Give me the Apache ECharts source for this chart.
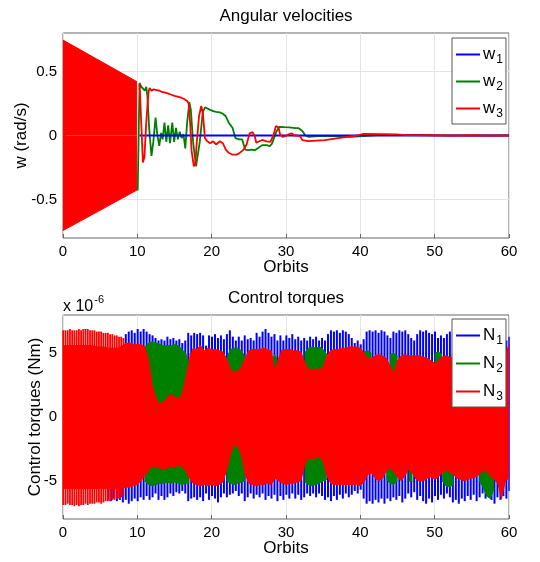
<!DOCTYPE html>
<html>
<head>
<meta charset="utf-8">
<title>Angular velocities / Control torques</title>
<script src="https://cdn.jsdelivr.net/npm/echarts@6/dist/echarts.min.js"></script>
<style>
  html, body { margin: 0; padding: 0; background: #fff; }
  #chart { width: 540px; height: 562px; }
</style>
</head>
<body>
<div id="chart"></div>
<script>
// ---- angular velocities (rad/s) vs orbits ----
var w1 = [[10.3, 0], [60, 0]];
var w2 = [[10.05, -0.43], [10.3, 0.41], [10.55, 0.38], [10.8, 0.39], [11.0, 0.35], [11.2, 0.38], [11.35, 0.31],
  [11.6, 0.05], [11.9, -0.16], [12.15, -0.05], [12.45, 0.14], [12.7, 0.0], [12.95, -0.08], [13.2, 0.02],
  [13.4, -0.03], [13.65, 0.1], [13.9, -0.05], [14.15, 0.08], [14.4, -0.06], [14.7, 0.1], [14.95, -0.05],
  [15.2, 0.06], [15.45, -0.03], [15.7, 0.03], [15.95, -0.02], [16.2, 0.01], [16.45, -0.1], [16.7, 0.1],
  [17.0, 0.26], [17.2, 0.2], [17.5, -0.05], [17.9, -0.24], [18.1, -0.23], [18.4, -0.05], [18.8, 0.18],
  [19.1, 0.22], [19.3, 0.21], [19.8, 0.2], [20.2, 0.19], [20.6, 0.185], [21.1, 0.18], [21.5, 0.17],
  [21.9, 0.15], [22.3, 0.1], [22.8, 0.06], [23.2, -0.02], [23.7, -0.03], [24.1, -0.03], [24.5, -0.11],
  [24.9, -0.115], [25.4, -0.11], [25.8, -0.115], [26.2, -0.1], [26.8, -0.075], [27.4, -0.075], [27.8, -0.083],
  [28.1, -0.065], [28.3, -0.05], [28.7, 0.03], [29.1, 0.068], [29.8, 0.065], [30.4, 0.063], [31.3, 0.058],
  [31.7, 0.057], [32.2, 0.035], [32.6, 0.0], [33.0, -0.01], [34.3, -0.005], [36.5, -0.005], [38.7, -0.01],
  [40.4, -0.005], [42.2, 0.003], [43.9, 0.003], [46, 0.005], [48, 0.004], [50, 0.002], [55, 0], [60, 0]];
var w3 = [[10.3, 0.4], [10.45, 0.2], [10.75, -0.21], [10.95, -0.17], [11.2, 0.1], [11.5, 0.34], [11.65, 0.37],
  [11.9, 0.35], [12.2, 0.36], [12.4, 0.345], [12.6, 0.355], [13.0, 0.35], [13.3, 0.34], [13.5, 0.345],
  [14.0, 0.33], [14.5, 0.32], [15.0, 0.31], [15.3, 0.305], [15.5, 0.3], [15.9, 0.295], [16.3, 0.285],
  [16.7, 0.27], [16.9, 0.25], [17.1, 0.1], [17.3, -0.12], [17.6, -0.24], [17.8, -0.22], [18.0, -0.05],
  [18.3, 0.15], [18.6, 0.23], [18.8, 0.18], [19.1, -0.02], [19.4, -0.045], [19.8, -0.06], [20.2, -0.045],
  [20.6, -0.07], [21.1, -0.045], [21.5, -0.06], [21.9, -0.11], [22.3, -0.135], [22.8, -0.15], [23.3, -0.15],
  [23.7, -0.14], [24.3, -0.11], [24.7, -0.07], [25.1, 0.016], [25.5, 0.026], [25.8, -0.005], [26.0, -0.057],
  [26.4, -0.045], [26.8, -0.035], [27.4, -0.045], [27.9, -0.05], [28.3, 0.0], [28.65, 0.075], [29.0, 0.06],
  [29.2, 0.01], [29.5, -0.01], [29.9, -0.005], [30.4, 0.01], [30.8, 0.016], [31.1, 0.0], [31.5, 0.0],
  [31.95, -0.01], [32.2, -0.036], [33.0, -0.044], [35.2, -0.036], [37, -0.02], [39.6, 0.0], [40.4, 0.013],
  [43, 0.01], [44.8, 0.008], [46.1, 0.003], [50, 0.002], [52, -0.002], [55, 0.002], [57, -0.002], [60, 0]];
// envelope of the fast w3 oscillation during the first 10 orbits
var w3BandTop = [[0, 0.745], [9.95, 0.42]];
var w3BandBottom = [[0, -0.742], [9.95, -0.426]];

// ---- control torques (x 1e-6 Nm) ----
// N3 envelope, one value every 0.5 orbit from 0 to 60
var n3Step = 0.5;
var n3Top = [
  5.6, 5.6, 5.6, 5.6, 5.6, 5.6, 5.6, 5.6, 5.6, 5.5,
  5.5, 5.5, 5.4, 5.4, 5.4, 5.4, 5.6, 5.8, 5.8, 5.7,
  5.7, 5.7, 5.5, 4.5, 2.5, 1.5, 1.0, 1.2, 1.5, 1.8,
  1.6, 1.4, 1.8, 3.0, 4.5, 5.4, 5.3, 5.6, 5.2, 5.4,
  5.3, 5.3, 5.2, 5.1, 4.6, 3.8, 3.5, 3.6, 3.9, 4.6,
  5.2, 5.3, 5.3, 5.3, 5.4, 5.3, 5.2, 3.6, 4.6, 5.3,
  5.3, 5.3, 5.2, 5.2, 5.1, 4.3, 3.8, 3.7, 3.8, 3.7,
  3.9, 4.8, 5.2, 5.3, 5.3, 5.4, 5.4, 5.5, 5.5, 5.5,
  5.4, 5.0, 4.6, 4.6, 4.8, 4.9, 4.8, 4.6, 4.0, 3.4,
  4.4, 4.8, 4.9, 4.8, 4.8, 4.8, 4.8, 4.7, 4.6, 4.4,
  4.2, 4.4, 4.7, 4.8, 4.7, 4.6, 4.6, 4.6, 4.7, 4.6,
  4.7, 4.6, 4.6, 4.5, 4.5, 4.4, 4.4, 4.5, 4.6, 4.8,
  5.7];
var n3Bottom = [
  -5.6, -5.6, -5.6, -5.6, -5.6, -5.6, -5.6, -5.6, -5.6, -5.6,
  -5.6, -5.6, -5.6, -5.6, -5.6, -5.6, -5.6, -5.5, -5.5, -5.4,
  -5.3, -5.0, -4.6, -4.2, -3.9, -3.9, -4.0, -4.1, -4.0, -3.9,
  -3.9, -3.8, -3.9, -4.2, -4.8, -5.2, -5.3, -5.4, -5.3, -5.4,
  -5.3, -5.4, -5.3, -5.1, -4.2, -3.0, -2.2, -2.3, -3.0, -4.5,
  -5.2, -5.3, -5.4, -5.3, -5.3, -5.2, -5.3, -4.8, -5.0, -5.2,
  -5.3, -5.2, -5.2, -5.1, -5.0, -3.8, -3.2, -3.3, -3.2, -3.1,
  -3.5, -4.6, -5.2, -5.3, -5.3, -5.3, -5.3, -5.3, -5.3, -5.3,
  -5.4, -5.1, -4.5, -4.4, -4.8, -5.0, -4.8, -4.2, -4.0, -4.3,
  -4.7, -5.0, -4.6, -4.1, -4.4, -4.9, -5.0, -5.0, -4.8, -4.7,
  -4.9, -4.7, -4.4, -4.2, -4.3, -4.5, -4.8, -4.9, -5.0, -4.9,
  -4.8, -4.7, -4.5, -4.2, -4.3, -4.6, -4.9, -5.2, -6.4, -5.0,
  -4.8];
// N3 oscillation peaks over the first 8 orbits, one every 0.3 orbit
var n3PeakStep = 0.3;
var n3PeaksTop = [6.8, 6.8, 6.8, 6.9, 6.8, 6.8, 6.8, 6.9, 6.8, 6.9, 6.9, 6.9, 6.8, 6.8,
  6.8, 6.7, 6.7, 6.7, 6.6, 6.6, 6.6, 6.5, 6.5, 6.4, 6.4, 6.3, 6.3, 6.2];
var n3PeaksBottom = [-6.9, -6.9, -6.8, -6.9, -6.9, -7.0, -6.9, -7.0, -6.9, -6.9, -6.8, -6.9, -6.8, -6.8,
  -6.8, -6.7, -6.7, -6.8, -6.7, -6.6, -6.6, -6.6, -6.5, -6.5, -6.4, -6.4, -6.3, -6.2];
// N3 peaks poking into the N2 patch, one every 0.3 orbit from 11.4
var n3SpikeStart = 11.4;
var n3SpikesTop = [5.0, 4.2, 3.5, 3.0, 2.6, 2.8, 2.4, 2.9, 2.6, 3.1,
  2.7, 3.3, 2.8, 3.0, 2.6, 3.2, 3.6, 4.0, 4.6, 5.0];
// N2 where it shows outside N3 ('-' = gap)
var n2Top = [[11, 5.5], [11.5, 5.8], [12, 5.9], [12.5, 5.8], [13, 5.7], [13.5, 5.6], [14, 5.6], [14.5, 5.6],
  [15, 5.7], [15.5, 5.6], [16, 5.3], [16.5, 5.0], [17, 4.0], [17.1, '-'],
  [22, 4.5], [22.5, 5.3], [23, 5.4], [23.5, 5.4], [24, 5.2], [24.5, 4.7], [24.6, '-'],
  [28.2, 4.6], [28.5, 4.9], [28.8, 4.5], [28.9, '-'],
  [32.5, 5.0], [33, 5.4], [33.5, 5.5], [34, 5.4], [34.5, 5.5], [35, 5.3], [35.5, 4.9], [35.6, '-'],
  [40.5, 5.1], [41, 5.2], [41.5, 5.0], [41.6, '-'],
  [44, 4.9], [44.5, 5.0], [45, 4.8], [45.1, '-'],
  [50, 5.0], [50.5, 5.1], [51, 4.9], [51.1, '-'],
  [52.3, 4.9], [52.8, 5.0]];
var n2Bottom = [[11, -5.0], [11.5, -5.3], [12, -5.4], [12.5, -5.3], [13, -5.2], [13.5, -5.2], [14, -5.1],
  [14.5, -5.2], [15, -5.1], [15.5, -5.2], [16, -5.3], [16.5, -5.2], [17, -5.2], [17.1, '-'],
  [22, -5.0], [22.5, -5.2], [23, -5.3], [23.5, -5.2], [24, -5.1], [24.5, -5.0], [24.6, '-'],
  [32.5, -5.1], [33, -5.3], [33.5, -5.4], [34, -5.3], [34.5, -5.2], [35, -5.0], [35.5, -4.9], [35.6, '-'],
  [43.5, -4.9], [44, -5.2], [44.5, -5.3], [45, -5.0], [45.1, '-'],
  [46.5, -5.0], [47, -5.1], [47.1, '-'],
  [51, -5.0], [51.5, -5.4], [52, -5.5], [52.5, -5.3], [52.6, '-'],
  [56, -5.0], [56.5, -5.5], [57, -6.2], [57.5, -6.4], [58, -5.6]];
// N1 oscillation peaks, one every 0.4 orbit from 6 to 60
var n1PeakStart = 6, n1PeakStep = 0.4;
var n1PeaksTop = [
  5.0, 5.0, 5.0, 5.0, 5.0, 5.0, 6.5, 6.7, 6.8, 6.6,
  6.9, 6.7, 6.9, 6.7, 6.5, 6.4, 6.2, 6.0, 6.1, 6.0,
  6.3, 6.1, 6.2, 6.0, 6.1, 5.8, 6.0, 6.6, 6.4, 6.6,
  6.5, 6.6, 6.4, 5.6, 6.4, 6.3, 6.5, 6.2, 6.4, 6.1,
  6.5, 6.8, 6.3, 6.0, 6.3, 6.0, 6.4, 6.1, 6.2, 6.0,
  6.6, 6.3, 6.7, 6.9, 6.6, 6.3, 6.5, 6.0, 6.4, 6.0,
  6.4, 6.2, 6.5, 6.1, 6.3, 6.0, 6.2, 6.0, 6.3, 6.1,
  6.3, 6.0, 6.2, 6.0, 6.5, 6.8, 6.7, 6.8, 6.6, 6.8,
  6.7, 6.5, 6.2, 5.8, 6.0, 5.7, 6.1, 6.7, 6.8, 6.7,
  6.8, 6.6, 6.8, 6.7, 6.4, 6.2, 6.7, 6.6, 6.8, 6.7,
  6.8, 6.5, 6.2, 6.0, 6.5, 6.8, 6.7, 6.8, 6.6, 6.5,
  6.7, 6.2, 6.4, 6.2, 6.5, 6.7, 6.5, 6.3, 6.4, 6.3,
  6.7, 6.5, 6.4, 6.6, 6.3, 6.5, 6.7, 6.5, 6.2, 6.5,
  6.7, 6.4, 5.9, 6.1, 6.0, 6.3];
var n1PeaksBottom = [
  -6.5, -6.6, -6.4, -6.6, -6.5, -6.7, -6.5, -6.8, -6.6, -6.4,
  -6.6, -6.3, -6.5, -6.2, -6.5, -6.3, -6.0, -6.5, -6.2, -6.5,
  -6.3, -6.0, -6.2, -5.9, -6.0, -5.8, -6.0, -6.6, -6.4, -6.3,
  -6.5, -6.3, -6.6, -6.0, -6.5, -6.2, -6.4, -6.7, -6.3, -6.0,
  -6.3, -6.1, -6.0, -5.8, -6.2, -6.0, -6.6, -6.3, -6.0, -6.4,
  -6.1, -6.3, -6.0, -6.5, -6.2, -6.4, -6.1, -6.6, -6.2, -6.5,
  -6.1, -6.4, -6.0, -6.4, -6.1, -6.5, -6.3, -6.0, -6.2, -6.0,
  -6.3, -6.0, -6.2, -6.5, -6.3, -6.6, -6.2, -6.5, -6.1, -6.4,
  -6.0, -6.3, -6.1, -5.8, -6.0, -5.7, -6.4, -6.8, -6.6, -6.8,
  -6.5, -6.7, -6.4, -6.8, -6.4, -6.6, -6.3, -6.5, -6.2, -6.7,
  -6.4, -6.0, -6.3, -5.9, -6.5, -6.2, -6.6, -6.8, -6.4, -6.7,
  -6.2, -6.5, -6.1, -6.4, -6.0, -6.3, -6.7, -6.5, -6.8, -6.4,
  -6.6, -6.2, -6.5, -6.1, -6.6, -6.3, -6.0, -6.4, -6.2, -6.5,
  -6.8, -6.3, -6.5, -6.2, -6.4, -5.8];

var BLUE = '#0000ff', GREEN = '#008000', RED = '#ff0000';
var FONT = '"Liberation Sans", Arial, sans-serif';

function onGrid(values, start, step) {
  return values.map(function (v, i) { return [+(start + i * step).toFixed(2), v]; });
}

var chart = echarts.init(document.getElementById('chart'));

function xAxisFor(i) {
  return {
    gridIndex: i, type: 'value', min: 0, max: 60, interval: 10,
    name: 'Orbits', nameLocation: 'middle', nameGap: 21, nameMoveOverlap: false,
    nameTextStyle: { fontSize: 17, color: '#000', fontFamily: FONT },
    axisLine: { show: false, onZero: false },
    axisTick: { show: true, inside: true, length: 4, lineStyle: { color: '#666' } },
    axisLabel: { fontSize: 15, color: '#000', fontFamily: FONT, margin: 6 },
    splitLine: { show: true, lineStyle: { color: '#e4e4e4', width: 1 } }
  };
}

function yAxisFor(i, lim, ticks, name, gap) {
  return {
    gridIndex: i, type: 'value', min: -lim, max: lim,
    name: name, nameLocation: 'middle', nameGap: gap, nameMoveOverlap: false,
    nameTextStyle: { fontSize: 17, color: '#000', fontFamily: FONT },
    axisLine: { show: false, onZero: false },
    axisTick: { show: true, inside: true, length: 4, customValues: ticks, lineStyle: { color: '#666' } },
    axisLabel: { fontSize: 15, color: '#000', fontFamily: FONT, margin: 6, customValues: ticks },
    splitLine: { show: true, lineStyle: { color: '#e4e4e4', width: 1 } }
  };
}

function subLegend(names, top, gap) {
  return {
    data: names, orient: 'vertical', left: 452, top: top,
    backgroundColor: '#fff', borderColor: '#555', borderWidth: 1,
    padding: [5, 3, 4, 4], itemGap: gap, itemWidth: 24, itemHeight: 2, icon: 'rect',
    selectedMode: false,
    formatter: function (n) { return '{m|' + n.charAt(0) + '}{s|' + n.slice(1) + '}'; },
    textStyle: {
      color: '#000', fontFamily: FONT, padding: [0, 0, 0, -2],
      rich: {
        m: { fontSize: 17, lineHeight: 20, fontFamily: FONT, color: '#000' },
        s: { fontSize: 12, lineHeight: 14, padding: [11, 0, 0, 1], fontFamily: FONT, color: '#000' }
      }
    }
  };
}

function lineSeries(name, data, color, width) {
  return {
    name: name, type: 'line', xAxisIndex: 0, yAxisIndex: 0, data: data, color: color,
    symbol: 'none', lineStyle: { color: color, width: width }
  };
}

function areaSeries(name, data, color, ai) {
  return {
    name: name, type: 'line', xAxisIndex: ai, yAxisIndex: ai, data: data, color: color,
    symbol: 'none', lineStyle: { color: color, width: 1 },
    areaStyle: { color: color, opacity: 1 }
  };
}

function peakSeries(name, data, color, width) {
  return {
    name: name, type: 'bar', xAxisIndex: 1, yAxisIndex: 1, data: data, color: color,
    barWidth: width, barGap: '-100%', itemStyle: { color: color }
  };
}

chart.setOption({
  animation: false,
  backgroundColor: '#fff',
  title: [
    { text: 'Angular velocities', left: 286, top: 8, padding: 0, textAlign: 'center',
      textStyle: { fontSize: 17, fontWeight: 'normal', color: '#000', fontFamily: FONT } },
    { text: 'Control torques', left: 286, top: 290, padding: 0, textAlign: 'center',
      textStyle: { fontSize: 17, fontWeight: 'normal', color: '#000', fontFamily: FONT } }
  ],
  graphic: [{
    type: 'text', left: 63, top: 294,
    style: {
      text: '{a|x 10}{b|-6}', fill: '#000',
      rich: {
        a: { fontSize: 16, fontFamily: FONT, padding: [6, 0, 0, 0] },
        b: { fontSize: 11, fontFamily: FONT, padding: [0, 0, 8, 1] }
      }
    }
  }],
  legend: [subLegend(['w1', 'w2', 'w3'], 38, 4), subLegend(['N1', 'N2', 'N3'], 319, 5)],
  grid: [
    { left: 63, top: 33, width: 446, height: 205, show: true, borderColor: '#666', borderWidth: 1, backgroundColor: 'transparent' },
    { left: 63, top: 315, width: 446, height: 204, show: true, borderColor: '#666', borderWidth: 1, backgroundColor: 'transparent' }
  ],
  xAxis: [xAxisFor(0), xAxisFor(1)],
  yAxis: [
    yAxisFor(0, 0.8, [-0.5, 0, 0.5], 'w (rad/s)', 33),
    yAxisFor(1, 8, [-5, 0, 5], 'Control torques (Nm)', 19)
  ],
  series: [
    areaSeries('w3', w3BandTop, RED, 0),
    areaSeries('w3', w3BandBottom, RED, 0),
    lineSeries('w2', w2, GREEN, 1.8),
    lineSeries('w1', w1, BLUE, 1.8),
    lineSeries('w3', w3, RED, 1.8),

    peakSeries('N1', onGrid(n1PeaksTop, n1PeakStart, n1PeakStep), BLUE, 2),
    peakSeries('N1', onGrid(n1PeaksBottom, n1PeakStart, n1PeakStep), BLUE, 2),
    areaSeries('N2', n2Top, GREEN, 1),
    areaSeries('N2', n2Bottom, GREEN, 1),
    areaSeries('N3', onGrid(n3Top, 0, n3Step), RED, 1),
    areaSeries('N3', onGrid(n3Bottom, 0, n3Step), RED, 1),
    peakSeries('N3', onGrid(n3PeaksTop, 0, n3PeakStep), RED, 1.8),
    peakSeries('N3', onGrid(n3PeaksBottom, 0, n3PeakStep), RED, 1.8),
    peakSeries('N3', onGrid(n3SpikesTop, n3SpikeStart, n3PeakStep), RED, 1.3)
  ]
});
</script>
</body>
</html>
